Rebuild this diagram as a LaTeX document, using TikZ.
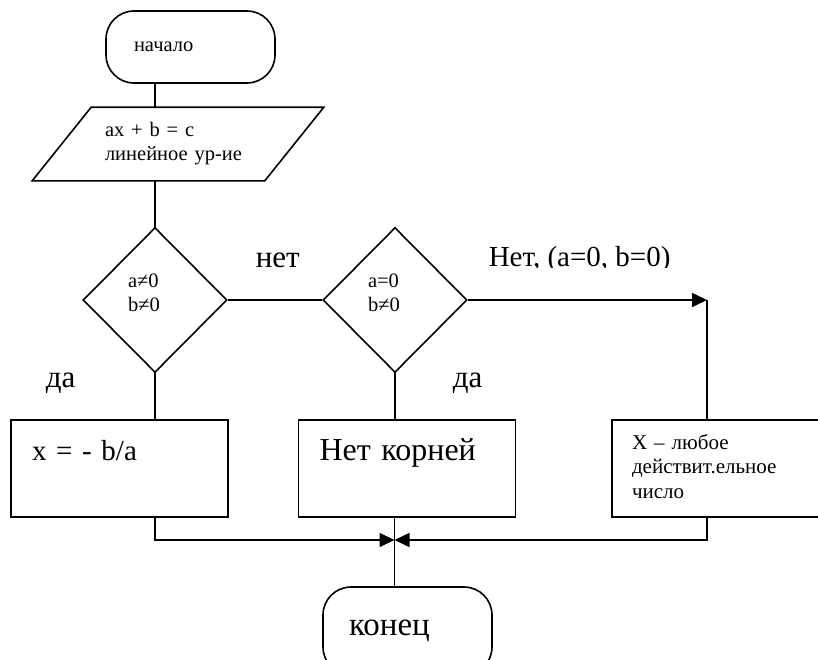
\documentclass[tikz,border=0pt]{standalone}
\usepackage{fontspec}
\setmainfont{Liberation Serif}
\usetikzlibrary{shapes.geometric,arrows.meta}
\newcommand\txtsmall{\fontsize{20.5}{24}\selectfont}
\newcommand\txtbig{\fontsize{31}{36}\selectfont}

\begin{document}
\begin{tikzpicture}[x=1pt, y=-1pt, line width=1.6pt,
  every node/.style={inner sep=0pt},
  termbox/.style={draw, rectangle, rounded corners=28pt, minimum width=169pt, align=left},
  decision/.style={draw, diamond, minimum width=144pt, minimum height=145pt, text width=54pt, align=left, text depth=38pt, font=\txtsmall},
  procbox/.style={draw, rectangle, minimum width=217pt, minimum height=97pt, align=left},
  arr/.style={-{Triangle[length=15pt,width=14pt]}}]
  \clip (0,0) rectangle (818,659);
  \node (start) [termbox, minimum height=72pt, inner xsep=28pt, text width=113pt, font=\txtsmall] at (190.5,47) {начало};
  \node (data) [minimum width=231pt, minimum height=72pt, inner xsep=42.5pt, text width=146pt, align=left, font=\txtsmall] at (178,144) {ax + b = c\\линейное ур-ие};
  \draw ([xshift=29.5pt]data.north west) -- ([xshift=29.5pt]data.north east) -- ([xshift=-29.5pt]data.south east) -- ([xshift=-29.5pt]data.south west) -- cycle;
  \node (cond1) [decision] at (155,300) {a≠0\\b≠0};
  \node (cond2) [decision] at (395,300) {a=0\\b≠0};
  \node (box1) [procbox, inner xsep=21pt, text width=175pt, text depth=37pt, font=\fontsize{29}{34}\selectfont] at (119.5,468.5) {x = - b/a};
  \node (box2) [procbox, inner xsep=21pt, text width=175pt, text depth=37pt, font=\fontsize{32}{38}\selectfont] at (407,468.5) {Нет корней};
  \node (box3) [procbox, inner xsep=20pt, text width=177pt, text depth=53.5pt, font=\fontsize{21}{24.5}\selectfont] at (720.5,468.5) {X – любое\\действит.ельное\\число};
  \node (stop) [termbox, minimum height=88pt, inner xsep=26pt, text width=117pt, font=\fontsize{33}{38}\selectfont] at (407.5,631) {конец};
  % labels
  \node (no1) [anchor=base west, font=\txtbig] at (255,267) {нет};
  \node (yes1) [anchor=base west, font=\txtbig] at (45,387) {да};
  \node (yes2) [anchor=base west, font=\txtbig] at (452,387) {да};
  \begin{scope}
    \clip (470,230) rectangle (720,267.5);
    \node (no2) [anchor=base west, font=\fontsize{29}{34}\selectfont] at (488,266) {Нет, (a=0, b=0)};
  \end{scope}
  \coordinate (turn) at (707,300);
  \coordinate (join) at (394.5,540);
  \draw (start.south -| cond1) -- (data.north -| cond1);
  \draw (data.south -| cond1) -- (cond1.north);
  \draw (cond1.east) -- (cond2.west);
  \draw (cond1.south) -- (box1.north -| cond1);
  \draw (cond2.south) -- (box2.north -| cond2);
  \draw[arr] (cond2.east) -- (turn);
  \draw (turn) -- (turn |- box3.north);
  \draw[arr] (box1.south -| cond1) |- (join);
  \draw[arr] (box3.south -| turn) |- (join);
  \draw (box2.south -| join) -- (stop.north -| join);
\end{tikzpicture}
\end{document}
